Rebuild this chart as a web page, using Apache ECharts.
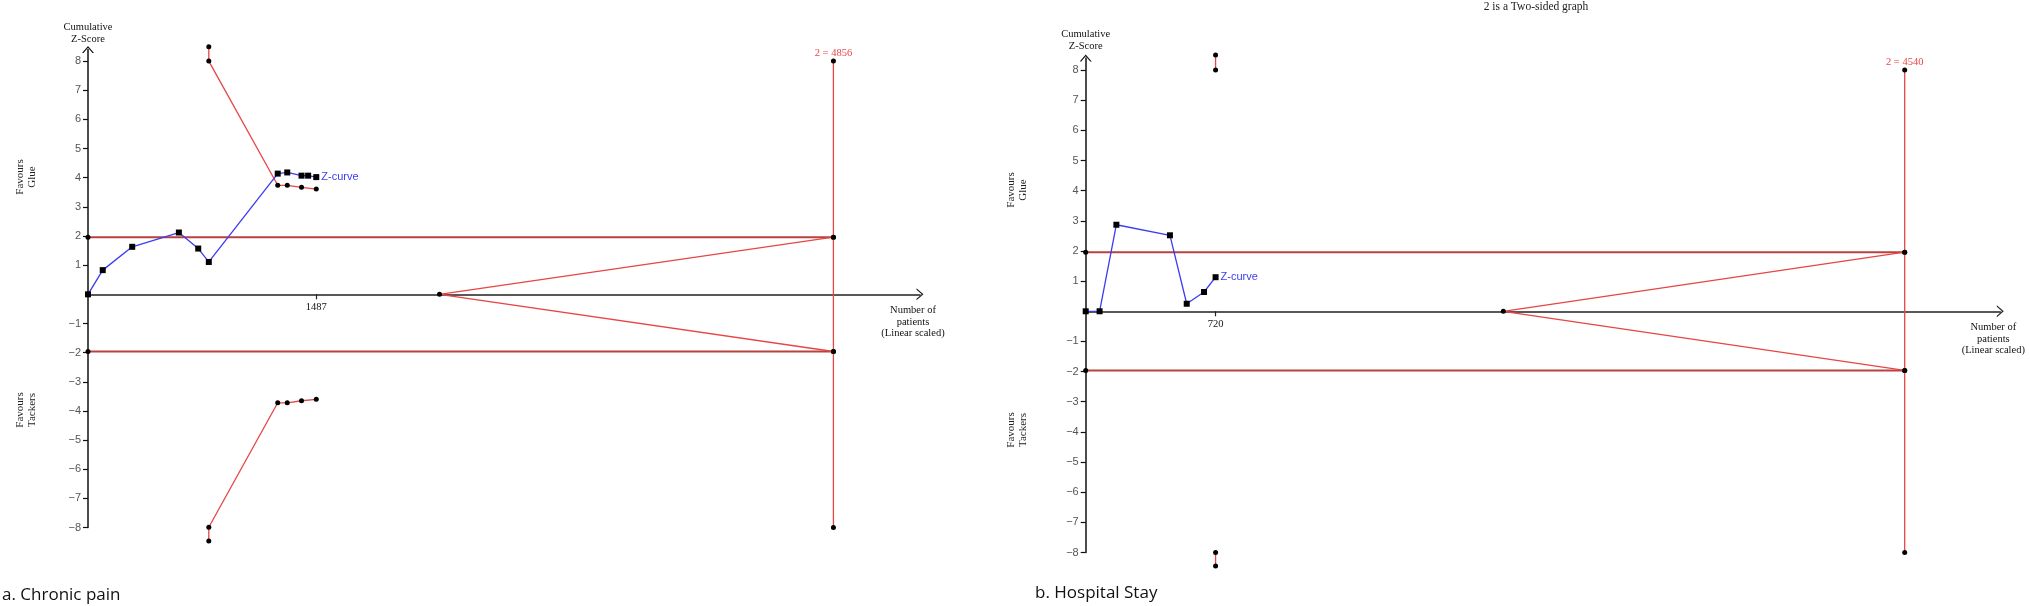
<!DOCTYPE html>
<html>
<head>
<meta charset="utf-8">
<script src="https://cdn.jsdelivr.net/npm/echarts@6/dist/echarts.min.js"></script>
<style>
html,body{margin:0;padding:0;background:#fff;}
#chart{width:2030px;height:606px;}
</style>
</head>
<body>
<div id="chart"></div>
<script>
// ---- data ----
const yTickValues = [-8,-7,-6,-5,-4,-3,-2,-1,1,2,3,4,5,6,7,8];
const yMin = -8;
const yMax = 8.4;
const zCrit = 1.96;
const zEdge = 8;

// a. Chronic pain
const aXMax = 5420;
const aTick = [1487];
const aRIS = 4856;
const aFutilityApex = 2290;
const aZX = [0, 96, 288, 592, 718, 787, 1236, 1298, 1391, 1434, 1487];
const aZY = [0, 0.83, 1.63, 2.12, 1.57, 1.11, 4.14, 4.18, 4.07, 4.07, 4.02];
const aBoundX = [787, 787, 1236, 1298, 1391, 1487];
const aUpperY = [8.49, 8.0, 3.74, 3.74, 3.67, 3.61];
const aLowerY = [-8.46, -7.99, -3.72, -3.72, -3.65, -3.60];

// b. Hospital Stay
const bXMax = 5070;
const bTick = [720];
const bRIS = 4540;
const bFutilityApex = 2315;
const bZX = [0, 77, 170, 467, 560, 656, 720];
const bZY = [0, 0, 2.87, 2.52, 0.25, 0.64, 1.13];
const bBoundX = [720, 720];
const bUpperY = [8.5, 8.0];
const bLowerY = [-8.0, -8.45];

// ---- styling / layout ----
const SERIF = 'Liberation Serif';
const SANS = 'Liberation Sans';
const RED = '#e84545';
const CRIT = '#b8423f';
const BLUE = '#3c3cf0';
const chevron = 'path://M0,7 L6,0 L12,7 L10.5,7 L6,1.8 L1.5,7 Z';
const grids = [
  {left:88, top:49.4, width:832, height:478.2},
  {left:1085.7, top:58, width:914.6, height:494.5}
];

function zip(xs, ys){ return xs.map((x,i)=>[x, ys[i]]); }

function axesFor(idx, xMax, ticks){
  const h = grids[idx].height;
  const zeroOffset = -h * (0 - yMin) / (yMax - yMin);
  const x = {
    type:'value', gridIndex: idx, min:0, max:xMax, position:'bottom', offset: zeroOffset,
    axisLine:{show:true, onZero:false, symbol:['none', chevron], symbolSize:[12,7],
      lineStyle:{color:'#222', width:1.5}},
    axisTick:{show:true, customValues:ticks, length:5, lineStyle:{color:'#222', width:1.2}},
    axisLabel:{show:true, customValues:ticks, color:'#111', fontFamily:SERIF, fontSize:10.5, margin:7,
      formatter: v => String(v)},
    splitLine:{show:false},
    name:'Number of\npatients\n(Linear scaled)', nameLocation:'end', nameGap:-7,
    nameTextStyle:{fontFamily:SERIF, fontSize:10.5, color:'#111', align:'center',
      verticalAlign:'top', lineHeight:11.7, padding:[10,0,0,0]}
  };
  const y = {
    type:'value', gridIndex: idx, min:yMin, max:yMax,
    axisLine:{show:true, onZero:false, symbol:['none', chevron], symbolSize:[12,7],
      lineStyle:{color:'#111', width:1.5}},
    axisTick:{show:true, customValues:yTickValues, length:5, lineStyle:{color:'#111', width:1.2}},
    axisLabel:{show:true, customValues:yTickValues, color:'#555', fontFamily:SANS, fontSize:11, margin:7,
      formatter: v => v < 0 ? '\u2212' + (-v) : String(v)},
    splitLine:{show:false},
    name:'Cumulative\nZ-Score', nameLocation:'end', nameGap: idx === 0 ? 4 : 6,
    nameTextStyle:{fontFamily:SERIF, fontSize:10.5, color:'#111', align:'center', lineHeight:12}
  };
  return [x, y];
}

function seriesFor(idx, p){
  const dot = {symbol:'circle', symbolSize:5, itemStyle:{color:'#000'}};
  const base = {type:'line', xAxisIndex:idx, yAxisIndex:idx, clip:false, silent:true, animation:false};
  return [
    Object.assign({}, base, dot, {data:[[0, zCrit],[p.ris, zCrit]], lineStyle:{color:CRIT, width:2}, z:2}),
    Object.assign({}, base, dot, {data:[[0, -zCrit],[p.ris, -zCrit]], lineStyle:{color:CRIT, width:2}, z:2}),
    Object.assign({}, base, dot, {data:[[p.ris, zCrit],[p.apex, 0],[p.ris, -zCrit]], lineStyle:{color:RED, width:1.3}, z:3}),
    Object.assign({}, base, dot, {
      data:[{value:[p.ris, zEdge], label:{show:true, position:'top', distance:0, formatter:'2 = ' + p.ris,
        color:RED, fontFamily:SERIF, fontSize:10.5}}, [p.ris, -zEdge]],
      lineStyle:{color:RED, width:1.3}, z:3}),
    Object.assign({}, base, dot, {data:zip(p.bx, p.up), lineStyle:{color:RED, width:1.3}, z:4}),
    Object.assign({}, base, dot, {data:zip(p.bx, p.lo), lineStyle:{color:RED, width:1.3}, z:4}),
    Object.assign({}, base, {
      symbol:'rect', symbolSize:6, itemStyle:{color:'#000'},
      data: zip(p.zx, p.zy).map((d,i,arr)=> i === arr.length-1
        ? {value:d, label:{show:true, position:'right', distance:2, formatter:'Z-curve', color:BLUE, fontFamily:SANS, fontSize:11}}
        : d),
      lineStyle:{color:BLUE, width:1.3}, z:6})
  ];
}

const aAxes = axesFor(0, aXMax, aTick);
const bAxes = axesFor(1, bXMax, bTick);

function sideText(x, y, txt){
  return {type:'text', x:x, y:y, rotation:Math.PI/2,
    style:{text:txt, fontFamily:SERIF, fontSize:11, fill:'#222', align:'center', verticalAlign:'middle', lineHeight:12}};
}

const option = {
  backgroundColor:'#fff',
  animation:false,
  grid: grids.map(g => Object.assign({containLabel:false}, g)),
  xAxis:[aAxes[0], bAxes[0]],
  yAxis:[aAxes[1], bAxes[1]],
  series: seriesFor(0, {ris:aRIS, apex:aFutilityApex, bx:aBoundX, up:aUpperY, lo:aLowerY, zx:aZX, zy:aZY})
    .concat(seriesFor(1, {ris:bRIS, apex:bFutilityApex, bx:bBoundX, up:bUpperY, lo:bLowerY, zx:bZX, zy:bZY})),
  graphic:[
    sideText(26, 177, 'Favours\nGlue'),
    sideText(26.5, 410, 'Favours\nTackers'),
    sideText(1017.5, 190, 'Favours\nGlue'),
    sideText(1017.5, 430, 'Favours\nTackers'),
    {type:'text', x:1536, y:7, style:{text:'2 is a Two-sided graph', fontFamily:SERIF, fontSize:11.5, fill:'#222', align:'center', verticalAlign:'middle'}},
    {type:'text', x:2, y:595, style:{text:'a. Chronic pain', fontFamily:'Open Sans', fontSize:17, fill:'#111', align:'left', verticalAlign:'middle'}},
    {type:'text', x:1035, y:593, style:{text:'b. Hospital Stay', fontFamily:'Open Sans', fontSize:17, fill:'#111', align:'left', verticalAlign:'middle'}}
  ]
};

const chart = echarts.init(document.getElementById('chart'), null, {renderer:'canvas', width:2030, height:606});
chart.setOption(option);
</script>
</body>
</html>
